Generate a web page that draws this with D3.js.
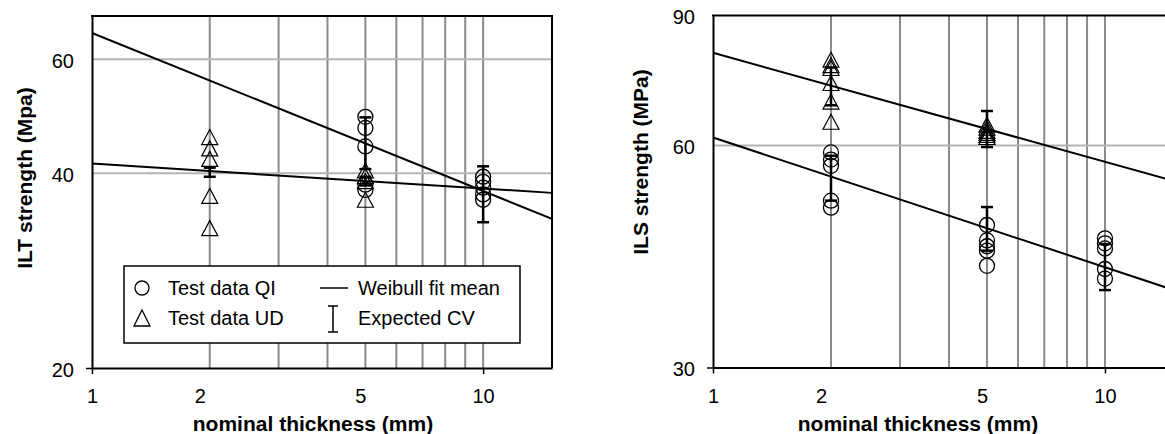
<!DOCTYPE html>
<html>
<head>
<meta charset="utf-8">
<script src="https://cdn.jsdelivr.net/npm/d3@7"></script>
<style>
  body { margin: 0; background: #fff; }
  svg { display: block; font-family: "Liberation Sans", Arial, sans-serif; }
</style>
</head>
<body>
<div id="chart"></div>
<script>
// axis ticks / grid
const thicknessLabels = [1, 2, 5, 10];
const thicknessGrid = [2, 3, 4, 5, 6, 7, 8, 9, 10];
const iltTicks = [20, 40, 60];
const ilsTicks = [30, 60, 90];

// ILT panel, [thickness (mm), strength (MPa)]
const iltQI = [[5, 48.9], [5, 47.0], [5, 44.0], [5, 38.4], [5, 37.7],
               [10, 39.5], [10, 38.8], [10, 38.0], [10, 37.1], [10, 36.4]];
const iltUD = [[2, 45.5], [2, 43.7], [2, 42.1], [2, 36.9], [2, 32.9],
               [5, 40.4], [5, 39.6], [5, 38.9], [5, 36.4]];
const iltFitQI = [[1, 65.9], [15, 34.0]];
const iltFitUD = [[1, 41.4], [15, 37.3]];
// expected CV, [thickness, low, high]
const iltCV = [[2, 39.5, 40.8], [5, 40.6, 48.8], [5, 38.3, 39.5], [10, 33.6, 41.0]];

// ILS panel
const ilsQI = [[2, 58.7], [2, 57.4], [2, 56.3], [2, 50.5], [2, 49.4],
               [5, 46.8], [5, 44.6], [5, 43.8], [5, 43.2], [5, 41.2],
               [10, 44.9], [10, 44.2], [10, 43.5], [10, 40.8], [10, 39.6]];
const ilsUD = [[2, 78.4], [2, 77.1], [2, 76.4], [2, 72.9], [2, 68.8], [2, 64.6],
               [5, 64.0], [5, 63.4], [5, 62.8], [5, 62.4], [5, 62.0], [5, 61.6]];
const ilsFitQI = [[1, 61.5], [15, 38.2]];
const ilsFitUD = [[1, 80.1], [15, 53.7]];
const ilsCV = [[2, 68.0, 76.5], [2, 50.5, 58.1], [5, 59.7, 66.8], [5, 43.2, 49.5], [10, 38.2, 44.1]];

// excel puts some of the x labels a bit left of their gridline
const labelShift = { 2: -10, 5: -5 };

const W = 1165, H = 434;
const FONT = "Liberation Sans, Arial, sans-serif";

const svg = d3.select("#chart").append("svg")
    .attr("width", W)
    .attr("height", H);

function triPath(w, h) {
    return `M0,${-h / 2}L${w / 2},${h / 2}L${-w / 2},${h / 2}Z`;
}

function drawPanel(p) {
    const x = d3.scaleLog().domain([1, 15]).range([p.left, p.right]);
    const y = d3.scaleLog().domain(p.yDomain).range([p.bottom, p.top]);
    const g = svg.append("g");

    // grid
    g.selectAll(".vgrid")
        .data(thicknessGrid)
        .enter().append("line")
        .attr("x1", d => x(d)).attr("x2", d => x(d))
        .attr("y1", p.top).attr("y2", p.bottom)
        .attr("stroke", "#8a8a8a")
        .attr("stroke-width", 2);

    g.selectAll(".hgrid")
        .data(p.yTicks.filter(d => d > p.yDomain[0] && d < p.yDomain[1]))
        .enter().append("line")
        .attr("x1", p.left).attr("x2", p.right)
        .attr("y1", d => y(d)).attr("y2", d => y(d))
        .attr("stroke", "#b4b4b4")
        .attr("stroke-width", 2);

    // weibull fits
    const line = d3.line().x(d => x(d[0])).y(d => y(d[1]));
    [p.fitQI, p.fitUD].forEach(f => {
        g.append("path")
            .attr("d", line(f))
            .attr("fill", "none")
            .attr("stroke", "#000")
            .attr("stroke-width", 2);
    });

    // expected CV bars
    const cv = g.selectAll(".cv")
        .data(p.cv)
        .enter().append("g");
    cv.append("line")
        .attr("x1", d => x(d[0])).attr("x2", d => x(d[0]))
        .attr("y1", d => y(d[1])).attr("y2", d => y(d[2]))
        .attr("stroke", "#000").attr("stroke-width", 2.5);
    cv.append("line")
        .attr("x1", d => x(d[0]) - 6).attr("x2", d => x(d[0]) + 6)
        .attr("y1", d => y(d[1])).attr("y2", d => y(d[1]))
        .attr("stroke", "#000").attr("stroke-width", 2.5);
    cv.append("line")
        .attr("x1", d => x(d[0]) - 6).attr("x2", d => x(d[0]) + 6)
        .attr("y1", d => y(d[2])).attr("y2", d => y(d[2]))
        .attr("stroke", "#000").attr("stroke-width", 2.5);

    // test data
    g.selectAll(".qi")
        .data(p.qi)
        .enter().append("circle")
        .attr("cx", d => x(d[0]))
        .attr("cy", d => y(d[1]))
        .attr("r", 7.5)
        .attr("fill", "none")
        .attr("stroke", "#000")
        .attr("stroke-width", 1.3);

    g.selectAll(".ud")
        .data(p.ud)
        .enter().append("path")
        .attr("d", triPath(16, 15))
        .attr("transform", d => `translate(${x(d[0])},${y(d[1])})`)
        .attr("fill", "none")
        .attr("stroke", "#000")
        .attr("stroke-width", 1.2);

    // x axis
    const ax = g.append("g")
        .attr("transform", `translate(0,${p.bottom})`)
        .call(d3.axisBottom(x).tickValues(thicknessLabels).tickFormat(d3.format("d")).tickSize(6).tickSizeOuter(0))
        .attr("font-size", 20)
        .attr("font-family", FONT);
    ax.select(".domain").attr("stroke", "#000").attr("stroke-width", 2);
    ax.selectAll(".tick line")
        .attr("stroke", "#000").attr("stroke-width", 1.5)
        .attr("y2", d => (d === 1 || d === 10) ? 6 : 0);
    ax.selectAll(".tick text")
        .attr("fill", "#000")
        .attr("y", 21)
        .attr("dx", d => labelShift[d] || 0);

    // y axis
    const ay = g.append("g")
        .attr("transform", `translate(${p.left},0)`)
        .call(d3.axisLeft(y).tickValues(p.yTicks).tickFormat(d3.format("d")).tickSize(6).tickSizeOuter(0))
        .attr("font-size", 20)
        .attr("font-family", FONT);
    ay.select(".domain").attr("stroke", "#000").attr("stroke-width", 2);
    ay.selectAll(".tick line")
        .attr("stroke", "#000").attr("stroke-width", 1.5)
        .attr("x2", d => d === p.yDomain[0] ? -6 : 0);
    ay.selectAll(".tick text")
        .attr("fill", "#000")
        .attr("x", -18)
        .attr("dy", "0.4em");

    // frame top / right
    g.append("line")
        .attr("x1", p.left - 1).attr("x2", p.right + 1)
        .attr("y1", p.top).attr("y2", p.top)
        .attr("stroke", "#000").attr("stroke-width", 2);
    g.append("line")
        .attr("x1", p.right).attr("x2", p.right)
        .attr("y1", p.top).attr("y2", p.bottom)
        .attr("stroke", "#000").attr("stroke-width", 2);

    // titles
    svg.append("text")
        .attr("x", p.xTitleX).attr("y", 431)
        .attr("text-anchor", "middle")
        .style("font-size", "21px")
        .style("font-weight", "bold")
        .text("nominal thickness (mm)");

    svg.append("text")
        .attr("transform", `translate(${p.yTitleX},${p.yTitleY}) rotate(-90)`)
        .attr("text-anchor", "middle")
        .style("font-size", "21px")
        .style("font-weight", "bold")
        .text(p.yTitle);

    return { x, y, g };
}

const left = drawPanel({
    left: 92, right: 552, top: 16, bottom: 368,
    yDomain: [20, 70], yTicks: iltTicks,
    qi: iltQI, ud: iltUD, fitQI: iltFitQI, fitUD: iltFitUD, cv: iltCV,
    xTitleX: 313, yTitleX: 32, yTitleY: 178, yTitle: "ILT strength (Mpa)"
});

drawPanel({
    left: 713, right: 1174, top: 15.5, bottom: 367.5,
    yDomain: [30, 90], yTicks: ilsTicks,
    qi: ilsQI, ud: ilsUD, fitQI: ilsFitQI, fitUD: ilsFitUD, cv: ilsCV,
    xTitleX: 918, yTitleX: 648, yTitleY: 162, yTitle: "ILS strength (MPa)"
});

// legend (left panel)
const lg = left.g.append("g").attr("transform", "translate(124,266)");
lg.append("rect")
    .attr("width", 396).attr("height", 77)
    .attr("fill", "#fff")
    .attr("stroke", "#000").attr("stroke-width", 1.5);

lg.append("circle")
    .attr("cx", 18).attr("cy", 22).attr("r", 7)
    .attr("fill", "none").attr("stroke", "#000").attr("stroke-width", 1.3);
lg.append("path")
    .attr("d", triPath(16, 16))
    .attr("transform", "translate(18,52)")
    .attr("fill", "none").attr("stroke", "#000").attr("stroke-width", 1.3);
lg.append("line")
    .attr("x1", 196).attr("x2", 224).attr("y1", 22).attr("y2", 22)
    .attr("stroke", "#000").attr("stroke-width", 1.5);
lg.append("path")
    .attr("d", "M204,40H214M209,40V66M204,66H214")
    .attr("fill", "none").attr("stroke", "#000").attr("stroke-width", 1.5);

const legendText = [
    { x: 44, y: 22, label: "Test data QI" },
    { x: 44, y: 52, label: "Test data UD" },
    { x: 234, y: 22, label: "Weibull fit mean" },
    { x: 234, y: 52, label: "Expected CV" }
];
lg.selectAll(".lt")
    .data(legendText)
    .enter().append("text")
    .attr("x", d => d.x).attr("y", d => d.y)
    .attr("dy", "0.36em")
    .style("font-size", "20px")
    .text(d => d.label);
</script>
</body>
</html>
